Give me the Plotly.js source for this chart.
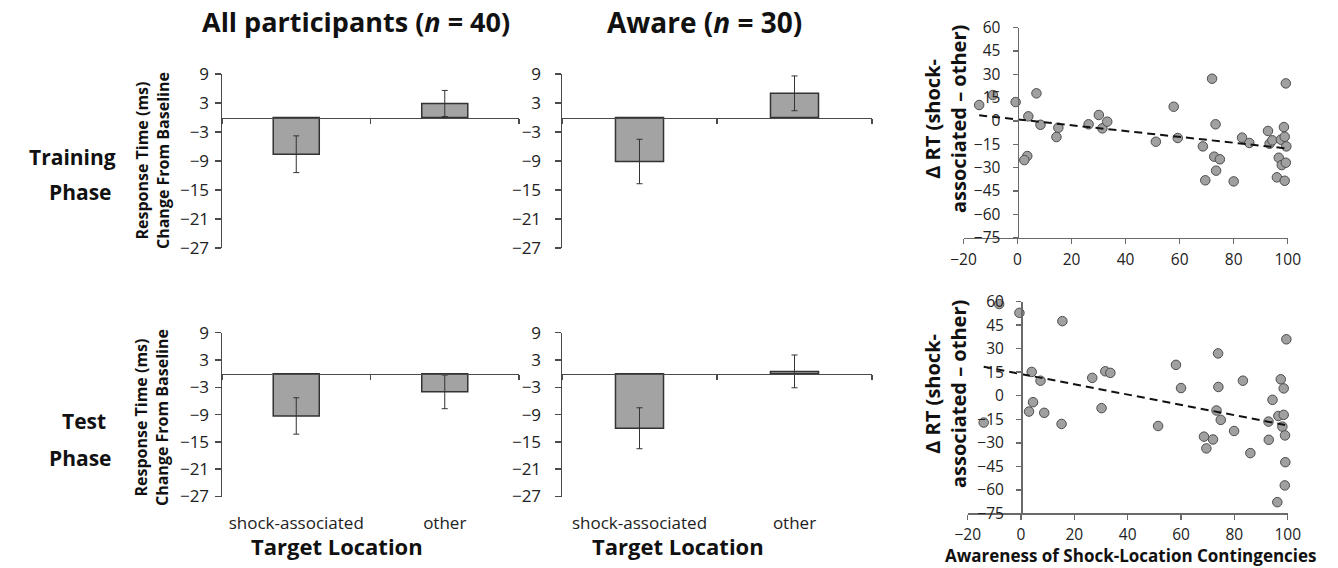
<!DOCTYPE html>
<html><head><meta charset="utf-8">
<script src="https://cdn.plot.ly/plotly-3.0.1.min.js"></script>
<style>html,body{margin:0;padding:0;background:#fff}#chart{width:1338px;height:568px}</style>
</head><body><div id="chart"></div>
<script>
// ---------- data ----------
const categories = ['shock-associated', 'other'];
const yTickVals = [9, 3, -3, -9, -15, -21, -27];

const allTrainMean = [-7.6, 2.9];
const allTrainErr = [3.8, 2.7];
const awareTrainMean = [-9.1, 5.0];
const awareTrainErr = [4.6, 3.6];
const allTestMean = [-9.3, -4.0];
const allTestErr = [4.0, 3.7];
const awareTestMean = [-12.0, 0.5];
const awareTestErr = [4.5, 3.6];

const scatterXTicks = [-20, 0, 20, 40, 60, 80, 100];
const scatterYTicks = [60, 45, 30, 15, 0, -15, -30, -45, -60, -75];

const trainAwareness = [-14.2, -9.1, -0.7, 7.0, 4.0, 3.6, 2.5, 8.5, 15.1, 14.4, 26.3, 30.1, 31.4, 33.2, 51.2, 57.8, 59.3, 72.0, 73.3, 68.6, 69.5, 72.8, 74.9, 73.5, 80.0, 83.1, 85.8, 92.7, 93.3, 94.3, 97.5, 98.6, 98.9, 99.5, 99.3, 96.7, 97.8, 99.3, 96.0, 98.9];
const trainDeltaRT = [10.3, 16.7, 12.2, 17.8, 3.0, -22.5, -25.1, -2.4, -4.3, -10.3, -2.1, 3.9, -4.7, -0.4, -13.3, 9.2, -10.9, 27.2, -2.1, -16.3, -38.1, -22.9, -24.6, -31.9, -38.8, -10.7, -14.1, -6.4, -14.6, -12.4, -12.0, -3.9, -10.1, -16.3, 24.2, -23.6, -28.3, -26.8, -36.2, -38.4];
const trainTrendX = [-14.2, 99.5];
const trainTrendY = [3.7, -17.6];

const testAwareness = [-0.6, -8.2, 15.5, -14.0, 4.0, 7.3, 4.5, 3.0, 8.7, 15.2, 26.7, 31.6, 33.5, 30.2, 51.4, 58.1, 60.0, 73.9, 74.0, 73.3, 74.9, 68.6, 69.5, 72.0, 79.9, 83.2, 86.0, 92.8, 92.9, 94.3, 97.4, 98.5, 96.5, 98.5, 98.0, 99.0, 99.5, 99.1, 98.9, 96.1];
const testDeltaRT = [52.9, 58.5, 47.6, -17.1, 15.2, 9.6, -4.1, -10.1, -10.9, -18.0, 11.4, 15.6, 14.6, -7.9, -19.3, 19.7, 4.9, 27.0, 5.6, -9.4, -15.4, -26.1, -33.6, -27.9, -22.5, 9.6, -36.6, -16.5, -28.1, -2.6, 10.5, 4.7, -12.9, -12.2, -19.7, -25.3, 36.0, -42.4, -57.2, -67.9];
const testTrendX = [-14.0, 99.5];
const testTrendY = [18.5, -18.8];

// ---------- layout helpers ----------
const W = 1338, H = 568;
const FONT = 'Open Sans, Noto Sans, sans-serif';
const fx = p => p / W;
const fy = p => 1 - p / H;
const axisColor = '#4a4a4a';
const textColor = '#222';

const barPanels = [
  {mean: allTrainMean, err: allTrainErr, x0: 222, x1: 519, y0: 74, y1: 248, standoff: 2, labels: false},
  {mean: awareTrainMean, err: awareTrainErr, x0: 562, x1: 872, y0: 74, y1: 248, standoff: 10, labels: false},
  {mean: allTestMean, err: allTestErr, x0: 222, x1: 519, y0: 332.7, y1: 496.5, standoff: 2, labels: true},
  {mean: awareTestMean, err: awareTestErr, x0: 562, x1: 872, y0: 332.7, y1: 496.5, standoff: 10, labels: true}
];

const data = [];
const layout = {
  width: W, height: H,
  margin: {l: 0, r: 0, t: 0, b: 0},
  paper_bgcolor: '#fff', plot_bgcolor: 'rgba(0,0,0,0)',
  showlegend: false,
  font: {family: FONT, color: textColor},
  annotations: []
};

const yRange = [-27, 9];
let labelAxisIdx = 5;
barPanels.forEach((p, i) => {
  const n = i + 1;
  const xd = [fx(p.x0), fx(p.x1)];
  const yd = [fy(p.y1), fy(p.y0)];
  data.push({
    type: 'bar', x: categories, y: p.mean,
    xaxis: 'x' + n, yaxis: 'y' + n, width: 0.31,
    marker: {color: '#a3a3a3', line: {color: '#333', width: 1.5}},
    error_y: {type: 'data', array: p.err, visible: true, color: '#333', thickness: 1, width: 3}
  });
  const zeroPos = yd[0] + (0 - yRange[0]) / (yRange[1] - yRange[0]) * (yd[1] - yd[0]);
  layout['xaxis' + n] = {
    domain: xd, anchor: 'free', position: zeroPos, type: 'category',
    categoryarray: categories, categoryorder: 'array', range: [-0.5, 1.5],
    showline: true, linecolor: axisColor, linewidth: 1.5,
    ticks: 'outside', tickson: 'boundaries', ticklen: 5, tickcolor: axisColor, tickwidth: 1.5,
    showticklabels: false, showgrid: false, zeroline: false, fixedrange: true
  };
  layout['yaxis' + n] = {
    domain: yd, anchor: 'x' + n, range: yRange, tickvals: yTickVals,
    showline: true, linecolor: axisColor, linewidth: 1.5,
    ticks: 'outside', ticklen: 6, tickcolor: axisColor, tickwidth: 1.5,
    ticklabelstandoff: p.standoff,
    tickfont: {size: 17, color: textColor, family: FONT},
    showgrid: false, zeroline: false, fixedrange: true
  };
  if (p.labels) {
    const li = labelAxisIdx++;
    // invisible companion trace so the category-label axis at the panel bottom is drawn
    data.push({
      type: 'scatter', mode: 'markers', x: categories, y: p.mean,
      xaxis: 'x' + li, yaxis: 'y' + n, marker: {opacity: 0}, hoverinfo: 'skip'
    });
    layout['xaxis' + li] = {
      overlaying: 'x' + n, anchor: 'y' + n, type: 'category',
      categoryarray: categories, categoryorder: 'array', range: [-0.5, 1.5],
      ticks: '', showline: false, showgrid: false, zeroline: false, ticklabelstandoff: 14,
      tickfont: {size: 17, color: textColor, family: FONT}, fixedrange: true
    };
  }
});

// scatter panels
const scatterPanels = [
  {x: trainAwareness, y: trainDeltaRT, tx: trainTrendX, ty: trainTrendY, x0: 963.5, x1: 1287.7, y0: 27.7, y1: 237.7},
  {x: testAwareness, y: testDeltaRT, tx: testTrendX, ty: testTrendY, x0: 967.7, x1: 1287.7, y0: 301.7, y1: 513.3}
];
const sxRange = [-20, 100], syRange = [-75, 60];
scatterPanels.forEach((p, i) => {
  const n = 7 + i;
  const xd = [fx(p.x0), fx(p.x1)];
  const yd = [fy(p.y1), fy(p.y0)];
  data.push({
    type: 'scatter', mode: 'markers', x: p.x, y: p.y, xaxis: 'x' + n, yaxis: 'y' + n,
    marker: {size: 9.5, color: '#a0a0a0', line: {color: '#4d4d4d', width: 1}}, cliponaxis: false
  });
  data.push({
    type: 'scatter', mode: 'lines', x: p.tx, y: p.ty, xaxis: 'x' + n, yaxis: 'y' + n,
    line: {color: '#111', width: 2, dash: '8px,5px'}
  });
  const yPos = xd[0] + (0 - sxRange[0]) / (sxRange[1] - sxRange[0]) * (xd[1] - xd[0]);
  layout['xaxis' + n] = {
    domain: xd, anchor: 'y' + n, range: sxRange, tickvals: scatterXTicks,
    showline: true, linecolor: '#6a6a6a', linewidth: 1.5,
    ticks: 'outside', ticklen: 5, tickcolor: '#6a6a6a', tickwidth: 1.5,
    ticklabelstandoff: 2,
    tickfont: {size: 15.5, color: textColor, family: FONT},
    showgrid: false, zeroline: false, fixedrange: true
  };
  layout['yaxis' + n] = {
    domain: yd, anchor: 'free', position: yPos, range: syRange, tickvals: scatterYTicks,
    showline: true, linecolor: '#6a6a6a', linewidth: 1.5,
    ticks: 'outside', ticklen: 5, tickcolor: '#6a6a6a', tickwidth: 1.5,
    ticklabelstandoff: 9,
    tickfont: {size: 15.5, color: textColor, family: FONT},
    showgrid: false, zeroline: false, fixedrange: true
  };
});

// text annotations
function ann(text, x, y, size, opts) {
  layout.annotations.push(Object.assign({
    text: text, x: fx(x), y: fy(y), xref: 'paper', yref: 'paper',
    xanchor: 'center', yanchor: 'middle', showarrow: false,
    font: {family: FONT, size: size, color: '#111', weight: 'bold'}
  }, opts || {}));
}
ann('All participants (<i>n</i> = 40)', 356, 22, 27);
ann('Aware (<i>n</i> = 30)', 704, 22, 28);
ann('Training', 72, 157, 21);
ann('Phase', 80, 192, 21);
ann('Test', 84, 421, 21);
ann('Phase', 80, 458, 21);
ann('Response Time (ms)<br>Change From Baseline', 152, 161, 16, {textangle: -90});
ann('Response Time (ms)<br>Change From Baseline', 151, 418, 16, {textangle: -90});
ann('Target Location', 337, 546, 22);
ann('Target Location', 678, 546, 22);
ann('Δ RT (shock-<br>associated – other)', 945, 119, 20, {textangle: -90});
ann('Δ RT (shock-<br>associated – other)', 945, 394, 20, {textangle: -90});
ann('Awareness of Shock-Location Contingencies', 1131, 555.5, 17, {borderpad: 0});

Plotly.newPlot('chart', data, layout, {staticPlot: true, displayModeBar: false});
</script>
</body></html>
